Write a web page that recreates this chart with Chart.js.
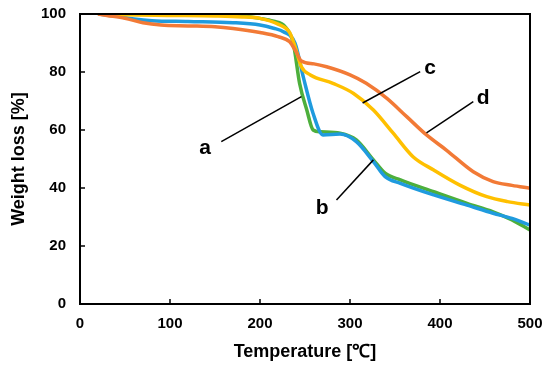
<!DOCTYPE html>
<html>
<head>
<meta charset="utf-8">
<script src="https://cdn.jsdelivr.net/npm/chart.js@4.4.1/dist/chart.umd.min.js"></script>
<style>
  html, body { margin: 0; padding: 0; background: #fff; }
  #wrap { width: 550px; height: 367px; }
</style>
</head>
<body>
<div id="wrap"><canvas id="tgaChart"></canvas></div>
<script>
// data (suhu dalam °C, berat dalam %)
const tempA = [20, 100, 150, 180, 200, 215, 228, 237, 244, 252, 259, 267, 289, 307, 326, 339, 356, 393, 430, 459, 480, 500];
const weightA = [100, 99.9, 99.7, 99.3, 98.5, 97.5, 95.6, 89.9, 76.1, 66.9, 60.0, 59.4, 58.9, 56.6, 49.7, 45.1, 42.8, 38.7, 34.7, 31.8, 29.0, 25.5];

const tempB = [20, 40, 60, 80, 120, 170, 200, 215, 226, 239, 248, 259, 270, 289, 307, 326, 339, 356, 393, 430, 459, 480, 500];
const weightB = [100, 99.3, 98.3, 97.7, 97.4, 97.0, 96.2, 95.1, 93.9, 89.9, 78.4, 65.7, 58.3, 58.6, 56.0, 49.1, 43.9, 41.6, 37.6, 34.1, 31.3, 29.5, 27.2];

const tempC = [20, 50, 100, 150, 180, 200, 220, 233, 239, 246, 256, 281, 304, 326, 348, 370, 393, 422, 452, 475, 500];
const weightC = [100, 99.7, 99.5, 99.3, 99.0, 98.5, 96.5, 93.6, 88.7, 81.8, 79.0, 76.1, 72.6, 66.9, 58.9, 50.8, 46.2, 41.0, 37.0, 35.3, 34.1];

const tempD = [20, 30, 50, 70, 90, 120, 150, 170, 200, 220, 233, 240, 246, 260, 274, 300, 318, 341, 363, 385, 407, 437, 459, 480, 500];
const weightD = [100, 99.5, 98.5, 97.0, 96.2, 95.9, 95.6, 95.0, 93.6, 92.2, 90.4, 87.0, 83.8, 82.8, 81.8, 79.0, 76.1, 70.9, 64.6, 58.3, 53.1, 45.6, 42.2, 40.9, 39.9];

const xTicks = [0, 100, 200, 300, 400, 500];
const yTicks = [0, 20, 40, 60, 80, 100];

// label kurva: [huruf, x label, y label, x1, y1, x2, y2]
const curveLabels = [
  ["a", 139, 53.8, 157, 56.0, 246, 71.5],
  ["b", 269, 33.1, 285, 35.9, 326, 49.7],
  ["c", 389, 81.4, 378, 80.1, 314, 69.3],
  ["d", 448, 71.0, 437, 69.8, 385, 59.0]
];

function toPoints(xs, ys) {
  return xs.map((x, i) => ({ x: x, y: ys[i] }));
}

// kotak sumbu, tick ke dalam, dan label a-d
const framePlugin = {
  id: "frame",
  afterDatasetsDraw(chart) {
    const ctx = chart.ctx;
    const area = chart.chartArea;
    const sx = chart.scales.x;
    const sy = chart.scales.y;
    ctx.save();
    ctx.strokeStyle = "#000";
    ctx.lineWidth = 1.5;

    curveLabels.forEach(l => {
      ctx.beginPath();
      ctx.moveTo(sx.getPixelForValue(l[3]), sy.getPixelForValue(l[4]));
      ctx.lineTo(sx.getPixelForValue(l[5]), sy.getPixelForValue(l[6]));
      ctx.stroke();
      ctx.fillStyle = "#000";
      ctx.font = "bold 21px 'Liberation Sans', Arial, sans-serif";
      ctx.textAlign = "center";
      ctx.textBaseline = "middle";
      ctx.fillText(l[0], sx.getPixelForValue(l[1]), sy.getPixelForValue(l[2]));
    });

    ctx.lineWidth = 2;
    ctx.strokeRect(area.left, area.top, area.right - area.left, area.bottom - area.top);
    ctx.lineWidth = 1.5;
    xTicks.forEach(v => {
      const px = sx.getPixelForValue(v);
      ctx.beginPath();
      ctx.moveTo(px, area.bottom);
      ctx.lineTo(px, area.bottom - 5);
      ctx.stroke();
    });
    yTicks.forEach(v => {
      const py = sy.getPixelForValue(v);
      ctx.beginPath();
      ctx.moveTo(area.left, py);
      ctx.lineTo(area.left + 5, py);
      ctx.stroke();
    });
    ctx.restore();
  }
};

const ds = (label, xs, ys, color) => ({
  label: label,
  data: toPoints(xs, ys),
  borderColor: color,
  backgroundColor: color,
  borderWidth: 3.5,
  pointRadius: 0,
  fill: false,
  cubicInterpolationMode: "monotone"
});

const fontFam = "'Liberation Sans', Arial, sans-serif";

new Chart(document.getElementById("tgaChart"), {
  type: "line",
  data: {
    datasets: [
      ds("d", tempD, weightD, "#F27A36"),
      ds("c", tempC, weightC, "#FFC000"),
      ds("b", tempB, weightB, "#1F9BDE"),
      ds("a", tempA, weightA, "#4DAF3C")
    ]
  },
  options: {
    responsive: true,
    maintainAspectRatio: false,
    animation: false,
    layout: { padding: { top: 14, right: 20, left: 0, bottom: 0 } },
    plugins: {
      legend: { display: false },
      tooltip: { enabled: false }
    },
    scales: {
      x: {
        type: "linear",
        min: 0,
        max: 500,
        afterFit(scale) {
          scale.height = 63;
          scale.paddingLeft = 0;
          scale.paddingRight = 0;
        },
        afterBuildTicks(scale) { scale.ticks = xTicks.map(v => ({ value: v })); },
        grid: { display: false, drawTicks: false },
        border: { display: false },
        ticks: {
          color: "#000",
          padding: 11,
          maxRotation: 0,
          font: { family: fontFam, size: 15, weight: "bold" }
        },
        title: {
          display: true,
          text: "Temperature [℃]",
          color: "#000",
          padding: { top: 2 },
          font: { family: fontFam, size: 18, weight: "bold" }
        }
      },
      y: {
        min: 0,
        max: 100,
        afterFit(scale) {
          scale.width = 80;
          scale.paddingTop = 0;
          scale.paddingBottom = 0;
        },
        afterBuildTicks(scale) { scale.ticks = yTicks.map(v => ({ value: v })); },
        grid: { display: false, drawTicks: false },
        border: { display: false },
        ticks: {
          color: "#000",
          padding: 14,
          font: { family: fontFam, size: 15, weight: "bold" }
        },
        title: {
          display: true,
          text: "Weight loss [%]",
          color: "#000",
          padding: { top: 8, bottom: 4 },
          font: { family: fontFam, size: 18, weight: "bold" }
        }
      }
    }
  },
  plugins: [framePlugin]
});
</script>
</body>
</html>
